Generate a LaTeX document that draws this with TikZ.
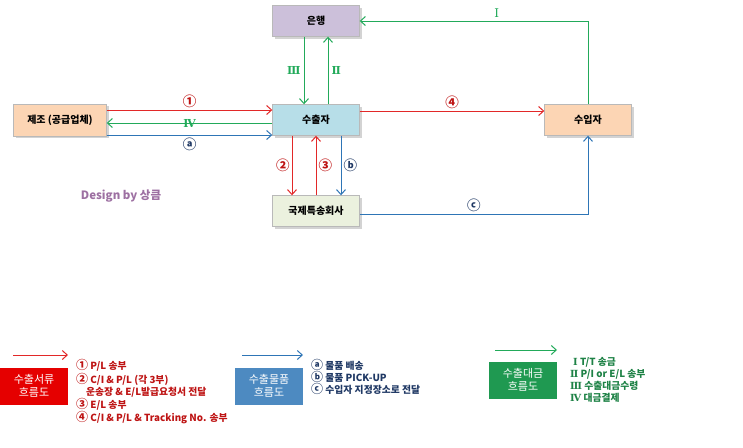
\documentclass[tikz,border=0pt]{standalone}
\usepackage{fontspec}
\setmainfont{Noto Sans CJK KR}
\newfontfamily\romanfont{DejaVu Serif}
\newcommand{\encl}[1]{{\fontsize{12}{12}\selectfont #1}}
\usetikzlibrary{arrows.meta, shadows}
\definecolor{docred}{RGB}{226,40,40}
\definecolor{docdark}{RGB}{190,20,20}
\definecolor{goodsblue}{RGB}{46,117,182}
\definecolor{goodsdark}{RGB}{31,56,100}
\definecolor{paygreen}{RGB}{34,170,90}
\definecolor{paydark}{RGB}{30,130,70}
\definecolor{bankfill}{RGB}{204,192,218}
\definecolor{expfill}{RGB}{183,222,232}
\definecolor{peachfill}{RGB}{252,213,180}
\definecolor{courfill}{RGB}{235,241,222}

\begin{document}
\begin{tikzpicture}[x=1pt, y=-1pt,
    box/.style={draw=gray!55, minimum width=87pt, minimum height=31pt, inner sep=0pt,
      font=\bfseries\fontsize{10}{12}\selectfont,
      drop shadow={shadow xshift=2pt, shadow yshift=-2pt, opacity=0.35, fill=gray}},
    doc/.style={draw=docred, line width=1pt, -{Straight Barb[length=5pt, width=9pt]}},
    goods/.style={draw=goodsblue, line width=1pt, -{Straight Barb[length=5pt, width=9pt]}},
    pay/.style={draw=paygreen, line width=1pt, -{Straight Barb[length=5pt, width=9pt]}},
    lbl/.style={font=\bfseries\fontsize{13.5}{14}\selectfont, inner sep=2pt},
    rlbl/.style={font=\romanfont\bfseries\fontsize{11}{12}\selectfont, inner sep=3pt, text=paygreen},
    legbox/.style={minimum width=68pt, minimum height=37pt, inner sep=0pt, align=center,
      text=white, font=\fontsize{11}{13}\selectfont},
    legtext/.style={anchor=north west, align=left, inner sep=0pt,
      font=\bfseries\fontsize{9.8}{12}\selectfont}]
  \useasboundingbox (0,0) rectangle (743,447);

  % main boxes
  \node[box, fill=bankfill] (bank) at (316,21) {은행};
  \node[box, fill=expfill] (exporter) at (316,120) {수출자};
  \node[box, fill=peachfill, minimum width=93pt, minimum height=32pt] (maker) at (60,120) {제조 (공급업체)};
  \node[box, fill=peachfill] (importer) at (588,120) {수입자};
  \node[box, fill=courfill] (courier) at (316,211) {국제특송회사};

  % documents
  \draw[doc] ([yshift=10pt]maker.east) -- node[above, lbl, text=docdark] {①} ([yshift=10pt]exporter.west);
  \draw[doc] ([yshift=9pt]exporter.east) -- node[above, lbl, text=docdark] {④} ([yshift=9pt]importer.west);
  \draw[doc] ([xshift=-24pt]exporter.south) -- node[left, lbl, text=docdark] {②} ([xshift=-24pt]courier.north);
  \draw[doc] (courier.north) -- node[right, lbl, text=docdark] {③} (exporter.south);

  % goods
  \draw[goods] ([yshift=-15pt]maker.east) -- node[below, lbl, text=goodsdark] {ⓐ} ([yshift=-15pt]exporter.west);
  \draw[goods] ([xshift=25pt]exporter.south) -- node[right, lbl, text=goodsdark] {ⓑ} ([xshift=25pt]courier.north);
  \draw[goods] ([yshift=-3pt]courier.east) -| node[pos=0.25, above, lbl, text=goodsdark] {ⓒ} (importer.south);

  % payment
  \draw[pay] (importer.north) |- node[pos=0.7, above, rlbl, font=\romanfont\fontsize{12}{12}\selectfont] {Ⅰ} (bank.east);
  \draw[pay] ([xshift=12pt]exporter.north) -- node[right, rlbl] {Ⅱ} ([xshift=12pt]bank.south);
  \draw[pay] ([xshift=-12pt]bank.south) -- node[left, rlbl] {Ⅲ} ([xshift=-12pt]exporter.north);
  \draw[pay] ([yshift=-3pt]exporter.west) -- node[rlbl] {Ⅳ} ([yshift=-3pt]maker.east);

  \node[font=\bfseries\fontsize{11.5}{12}\selectfont, text=bankfill!55!violet!70!gray] (sign) at (121,196) {Design by 상큼};

  % legend
  \coordinate (docfrom) at (13,355);  \coordinate (docto) at (68,355);
  \coordinate (goodsfrom) at (242,355); \coordinate (goodsto) at (303,355);
  \coordinate (payfrom) at (495,350); \coordinate (payto) at (557,350);
  \draw[doc] (docfrom) -- (docto);
  \draw[goods] (goodsfrom) -- (goodsto);
  \draw[pay] (payfrom) -- (payto);

  \node[legbox, fill=red!90!black] (docleg) at (34,386) {수출서류\\흐름도};
  \node[legbox, fill=goodsblue!85!white] (goodsleg) at (269,386) {수출물품\\흐름도};
  \node[legbox, fill=paygreen!90!black] (payleg) at (523,380) {수출대금\\흐름도};

  \node[legtext, text=docdark] (docitems) at (76,359.5)
    {\encl{①} P/L 송부\\\encl{②} C/I \& P/L (각 3부)\\\hspace*{10pt}운송장 \& E/L발급요청서 전달\\\encl{③} E/L 송부\\\encl{④} C/I \& P/L \& Tracking No. 송부};
  \node[legtext, text=goodsdark] (goodsitems) at (311,359.5)
    {\encl{ⓐ} 물품 배송\\\encl{ⓑ} 물품 PICK-UP\\\encl{ⓒ} 수입자 지정장소로 전달};
  \node[legtext, text=paydark] (payitems) at (570,357.5)
    {\hspace*{3pt}{\romanfont Ⅰ} T/T 송금\\{\romanfont Ⅱ} P/I or E/L 송부\\{\romanfont Ⅲ} 수출대금수령\\{\romanfont Ⅳ} 대금결제};
\end{tikzpicture}
\end{document}
